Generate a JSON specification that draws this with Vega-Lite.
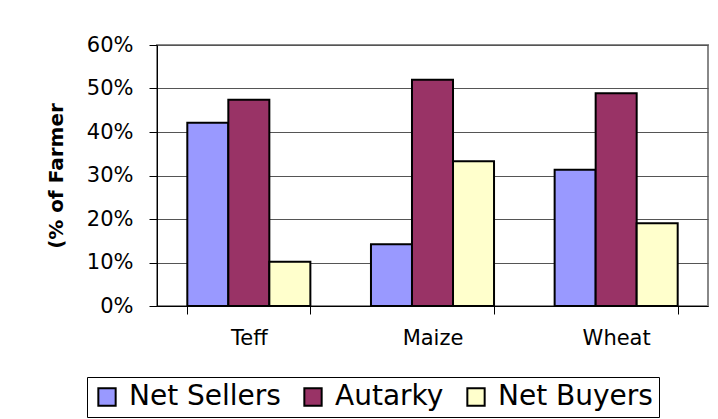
{
  "$schema": "https://vega.github.io/schema/vega-lite/v6.json",
  "width": 551,
  "height": 261,
  "autosize": "none",
  "padding": {"left": 157, "top": 45, "right": 10, "bottom": 113},
  "background": "white",
  "config": {
    "view": {"stroke": "#888888", "strokeWidth": 2},
    "font": "DejaVu Sans"
  },
  "data": {
    "values": [
      {"crop": "Teff", "group": "Net Sellers", "pct": 42.1},
      {"crop": "Teff", "group": "Autarky", "pct": 47.4},
      {"crop": "Teff", "group": "Net Buyers", "pct": 10.2},
      {"crop": "Maize", "group": "Net Sellers", "pct": 14.2},
      {"crop": "Maize", "group": "Autarky", "pct": 52.0},
      {"crop": "Maize", "group": "Net Buyers", "pct": 33.3},
      {"crop": "Wheat", "group": "Net Sellers", "pct": 31.3},
      {"crop": "Wheat", "group": "Autarky", "pct": 48.9},
      {"crop": "Wheat", "group": "Net Buyers", "pct": 19.0}
    ]
  },
  "mark": {"type": "bar", "stroke": "black", "strokeWidth": 2},
  "encoding": {
    "x": {
      "field": "crop",
      "type": "nominal",
      "sort": ["Teff", "Maize", "Wheat"],
      "scale": {"paddingInner": 0.33, "paddingOuter": 0.165},
      "axis": {
        "title": null,
        "labelAngle": 0,
        "tickBand": "extent",
        "tickSize": 8,
        "tickColor": "black",
        "domainColor": "black",
        "labelFont": "DejaVu Sans",
        "labelFontSize": 21,
        "labelColor": "black",
        "labelPadding": 13,
        "grid": false
      }
    },
    "xOffset": {"field": "group", "type": "nominal", "sort": ["Net Sellers", "Autarky", "Net Buyers"]},
    "y": {
      "field": "pct",
      "type": "quantitative",
      "scale": {"domain": [0, 60]},
      "axis": {
        "values": [0, 10, 20, 30, 40, 50, 60],
        "labelExpr": "datum.value + '%'",
        "title": "(% of Farmer",
        "titleFont": "DejaVu Sans",
        "titleFontWeight": "bold",
        "titleFontSize": 20,
        "titleColor": "black",
        "titlePadding": 20,
        "grid": true,
        "gridColor": "#555555",
        "tickSize": 8,
        "tickColor": "black",
        "domainColor": "black",
        "labelFont": "DejaVu Sans",
        "labelFontSize": 21,
        "labelColor": "black",
        "labelPadding": 16
      }
    },
    "color": {
      "field": "group",
      "type": "nominal",
      "sort": ["Net Sellers", "Autarky", "Net Buyers"],
      "scale": {"domain": ["Net Sellers", "Autarky", "Net Buyers"], "range": ["#9999FF", "#993366", "#FFFFCC"]},
      "legend": {
        "orient": "none",
        "legendX": -70,
        "legendY": 332,
        "direction": "horizontal",
        "title": null,
        "symbolType": "square",
        "symbolSize": 300,
        "symbolStrokeColor": "black",
        "symbolStrokeWidth": 2,
        "symbolOpacity": 1,
        "labelFont": "DejaVu Sans",
        "labelFontSize": 28,
        "labelColor": "black",
        "labelOffset": 8,
        "columnPadding": 18,
        "strokeColor": "black",
        "padding": 6
      }
    }
  }
}
